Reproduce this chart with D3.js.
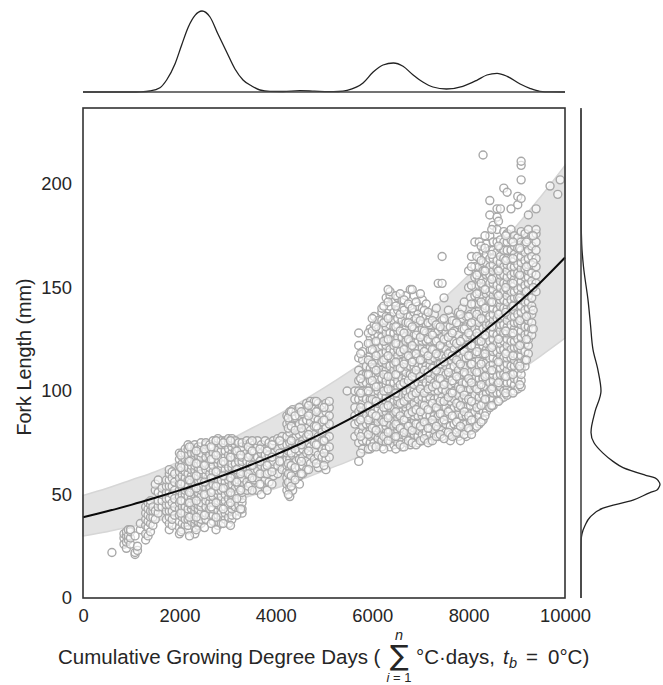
<!DOCTYPE html>
<html>
<head>
<meta charset="utf-8">
<script src="https://cdnjs.cloudflare.com/ajax/libs/d3/7.8.5/d3.min.js"></script>
<style>
body { margin: 0; background: #fff; }
svg { display: block; }
text { font-family: "Liberation Sans", Arial, sans-serif; fill: #262626; }
</style>
</head>
<body>
<script>
// values
var xTicks = [0, 2000, 4000, 6000, 8000, 10000];
var yTicks = [0, 50, 100, 150, 200];

var fitX = [0, 500, 1000, 1500, 2000, 2500, 3000, 3500, 4000, 4500, 5000, 5500, 6000, 6500, 7000, 7500, 8000, 8500, 9000, 9500, 10000];
var fitMean = [39, 41.9, 45, 48.4, 52, 55.8, 60, 64.5, 69.3, 74.4, 80, 86, 92.4, 99.2, 106.6, 114.6, 123, 132.2, 142, 152.7, 164.5];
var fitUpper = [49.5, 53, 57, 61, 66, 71, 76, 82, 88, 94.5, 101.5, 109, 117, 126, 135, 145, 156, 168, 180, 194, 209];
var fitLower = [30, 32, 34.5, 37, 40, 43, 46, 49.5, 53, 57, 61.5, 66, 71, 76, 82, 88, 94.5, 101.5, 109, 117, 125.5];

var topKdeX = [0, 1000, 1200, 1390, 1597, 1735, 1908, 2047, 2185, 2324, 2469, 2635, 2800, 2980, 3153, 3320, 3500, 3670, 3880, 4150, 4500, 4800, 5100, 5300, 5480, 5810, 6020, 6225, 6440, 6640, 6850, 7050, 7260, 7540, 7880, 8170, 8380, 8590, 8800, 9070, 9270, 9480, 9700, 10000];
var topKdeY = [0, 0, 0.2, 1, 4.3, 12, 28, 47, 65, 76.6, 81, 75, 58, 40, 23, 12, 6, 2, 0.6, 0.5, 1.3, 0.8, 0.3, 0.5, 1.7, 9, 20, 27, 29, 25.7, 17, 10, 5, 3, 5.7, 11.7, 17, 18.7, 15.7, 8, 3.7, 0.7, 0.1, 0];

var rightKdeY = [0, 20, 28, 31, 35, 39, 43.4, 47.3, 50.9, 52.2, 53.5, 55, 56.5, 58, 59.4, 63, 66, 70, 75, 80, 90, 100, 110, 120, 132, 144, 160, 171, 185, 236];
var rightKdeX = [0, 0, 0.2, 1, 4, 9, 22, 52, 69, 76, 78, 79, 77.5, 74, 64, 42, 32, 22, 13, 10, 14, 20, 17, 12, 9.5, 7, 2.5, 0.7, 0.1, 0];

var scatterX = [600, 850, 900, 940, 985, 1080, 1130, 1190, 1300, 1350, 1400, 1450, 1500, 1560, 1640, 1730, 1790, 1850, 1900, 2000, 2060, 2120, 2180, 2250, 2320, 2390, 2450, 2550, 2630, 2700, 2800, 2870, 2950, 3020, 3090, 3160, 3230, 3300,
  3400, 3470, 3550, 3620, 3700, 3780, 3860, 3950, 4040, 4130, 4230, 4290, 4350, 4420, 4490, 4560, 4640, 4720, 4800, 4880, 4960, 5040, 5110,
  5480, 5640, 5720, 5800, 5880, 5960, 6040, 6120, 6200, 6290, 6370, 6450, 6530, 6620, 6700, 6790, 6870, 6950, 7040, 7120, 7200, 7290, 7370, 7450, 7530, 7620, 7700, 7790, 7870, 7950, 8040,
  8130, 8220, 8300, 8370, 8440, 8510, 8590, 8660, 8730, 8800, 8880, 8950, 9020, 9090, 9170, 9240, 9310, 9400, 9690, 9850, 9900];
var scatterY = [
  [22],
  [26, 29, 31],
  [24, 27, 30, 32],
  [28, 30, 33],
  [26, 29, 32, 33],
  [21, 22, 30],
  [23, 25],
  [33, 36],
  [28, 31, 35, 38, 41, 44],
  [30, 34, 37, 40, 43, 46],
  [32, 36, 39, 42, 45, 47],
  [35, 39, 42, 44],
  [38, 42, 52, 55],
  [41, 44, 47, 51, 57],
  [44, 47, 50, 53],
  [38, 42, 45, 48, 51, 54, 57],
  [33, 36, 39, 42, 45, 48, 51, 54, 57, 60, 62],
  [35, 38, 42, 46, 50, 54, 58, 61],
  [40, 44, 48, 52, 56, 60],
  [31, 34, 37, 40, 43, 46, 49, 52, 55, 58, 61, 64, 67, 70],
  [33, 36, 39, 42, 44, 47, 50, 53, 56, 59, 62, 65, 68, 70],
  [35, 38, 41, 44, 47, 50, 52, 55, 58, 61, 64, 67, 70, 72],
  [33, 35, 38, 41, 43, 46, 49, 52, 54, 57, 60, 63, 66, 69, 72, 74],
  [37, 40, 43, 45, 48, 51, 53, 56, 59, 62, 64, 67, 70, 73],
  [31, 34, 36, 38, 40, 42, 44, 46, 48, 50, 52, 54, 56, 58, 60, 62, 64, 66, 68, 70, 72, 74],
  [35, 37, 39, 41, 43, 45, 47, 49, 51, 53, 55, 57, 59, 61, 63, 65, 67, 69, 71, 73],
  [36, 38, 41, 44, 46, 49, 52, 54, 57, 60, 62, 65, 68, 70, 73, 75],
  [38, 41, 44, 47, 50, 53, 56, 59, 62, 65, 68, 71, 74, 75],
  [40, 43, 46, 49, 52, 54, 57, 60, 63, 66, 69, 72, 74],
  [37, 40, 43, 46, 49, 52, 55, 58, 61, 64, 67, 70, 73, 76],
  [35, 37, 40, 42, 45, 47, 50, 52, 55, 57, 60, 62, 65, 67, 70, 72, 75, 77],
  [36, 39, 41, 44, 47, 49, 52, 55, 57, 60, 63, 65, 68, 71, 74, 76],
  [38, 41, 44, 47, 50, 53, 56, 59, 62, 65, 68, 71, 74, 76],
  [36, 39, 42, 45, 48, 51, 54, 57, 60, 63, 66, 69, 72, 75, 77],
  [38, 40, 43, 45, 48, 50, 53, 55, 58, 60, 63, 65, 68, 70, 73, 75, 77],
  [44, 47, 50, 53, 56, 59, 62, 65, 68, 71, 74, 76],
  [42, 45, 48, 51, 54, 57, 60, 63, 66, 69, 72, 75],
  [41, 43, 46, 48, 51, 53, 56, 58, 61, 63, 66, 68, 71, 73, 75],
  [52, 56, 60, 63, 66, 70, 74, 76],
  [55, 59, 62, 65, 69, 72, 75],
  [57, 61, 64, 68, 71, 74],
  [52, 58, 62, 65, 68, 73, 76],
  [50, 55, 60, 64, 67, 70, 74],
  [57, 60, 63, 66, 69, 72, 76],
  [56, 61, 65, 69, 73, 75],
  [59, 63, 66, 70, 74, 76],
  [60, 64, 68, 72, 77],
  [62, 66, 70, 74, 78],
  [52, 55, 58, 61, 64, 67, 70, 74, 78, 84, 88],
  [49, 53, 56, 60, 63, 67, 71, 75, 80, 85, 89, 90],
  [52, 57, 61, 65, 69, 73, 77, 82, 87, 91],
  [58, 62, 66, 70, 74, 78, 83, 87, 90],
  [55, 59, 63, 67, 71, 75, 79, 84, 88, 92],
  [60, 64, 68, 72, 76, 80, 85, 89],
  [62, 66, 70, 74, 78, 82, 86, 90, 94],
  [65, 69, 73, 77, 81, 85, 89, 95],
  [67, 71, 75, 79, 83, 87, 92, 95],
  [63, 69, 74, 78, 82, 86, 91, 94],
  [68, 72, 76, 80, 85, 89, 93],
  [62, 67, 72, 77, 82, 86, 90, 94],
  [68, 73, 78, 84, 88, 92, 95],
  [100],
  [78, 84, 88, 92, 96, 100],
  [66, 75, 80, 85, 90, 96, 100, 105, 110, 116, 122, 128],
  [72, 76, 80, 83, 87, 90, 94, 97, 100, 104, 108, 115, 119],
  [76, 80, 84, 88, 92, 96, 100, 104, 108, 112],
  [72, 75, 78, 81, 84, 87, 90, 93, 96, 99, 102, 105, 108, 111, 114, 117, 120, 123, 126, 130],
  [75, 79, 83, 87, 91, 95, 99, 103, 107, 111, 115, 119, 123, 127, 132, 136],
  [74, 77, 80, 82, 85, 88, 91, 94, 97, 100, 103, 106, 109, 112, 115, 118, 121, 124, 127, 130, 134],
  [73, 76, 79, 82, 86, 90, 94, 98, 102, 106, 110, 114, 118, 122, 126, 130, 134, 138, 140],
  [75, 78, 80, 83, 85, 87, 90, 92, 95, 97, 100, 103, 105, 108, 110, 113, 116, 119, 122, 125, 128, 131, 134, 136, 145],
  [73, 76, 78, 81, 84, 88, 92, 96, 100, 104, 108, 112, 116, 120, 124, 128, 132, 136, 141, 146, 148],
  [74, 77, 80, 83, 86, 89, 92, 95, 98, 101, 104, 107, 110, 113, 116, 119, 122, 125, 128, 131, 134, 138, 143],
  [75, 78, 81, 83, 85, 87, 89, 91, 93, 95, 97, 99, 102, 105, 108, 111, 114, 117, 120, 123, 126, 129, 132, 135, 139, 145],
  [73, 76, 79, 82, 86, 90, 94, 98, 102, 106, 110, 114, 118, 122, 126, 130, 134, 140, 144],
  [75, 78, 81, 84, 87, 90, 92, 94, 96, 98, 100, 103, 106, 109, 112, 115, 118, 121, 124, 127, 130, 133, 137, 146],
  [74, 77, 80, 84, 88, 92, 96, 100, 104, 108, 112, 116, 120, 124, 128, 132, 136, 141, 149],
  [76, 79, 82, 84, 86, 88, 91, 94, 97, 100, 103, 106, 109, 112, 115, 118, 121, 124, 127, 130, 134, 138, 146],
  [75, 78, 81, 84, 88, 92, 96, 100, 104, 108, 112, 116, 120, 124, 129, 133, 137, 141],
  [76, 79, 82, 85, 88, 91, 94, 97, 100, 103, 106, 109, 112, 115, 118, 121, 124, 127, 130, 133, 136, 140, 144],
  [77, 80, 84, 88, 92, 96, 100, 104, 108, 112, 116, 120, 124, 128, 132, 136, 142],
  [76, 79, 82, 85, 88, 91, 94, 97, 100, 103, 106, 109, 112, 115, 118, 121, 124, 128, 132, 135],
  [78, 81, 84, 88, 92, 96, 100, 104, 108, 112, 116, 120, 124, 128, 133, 137],
  [78, 82, 85, 88, 91, 94, 97, 100, 103, 106, 109, 113, 117, 121, 125, 129, 132, 152],
  [78, 81, 85, 89, 93, 97, 101, 105, 109, 113, 117, 121, 126, 130, 134, 165, 152],
  [80, 84, 88, 92, 96, 100, 104, 108, 112, 116, 120, 124, 128, 131],
  [76, 79, 83, 87, 91, 95, 99, 103, 107, 111, 115, 119, 123, 127, 131, 136],
  [80, 84, 88, 92, 96, 100, 104, 108, 112, 116, 120, 124, 129, 134],
  [78, 82, 86, 89, 92, 95, 98, 102, 106, 110, 114, 118, 122, 127, 132, 138],
  [80, 84, 88, 92, 96, 100, 104, 108, 112, 116, 120, 125, 130, 135, 140],
  [78, 81, 84, 88, 92, 96, 100, 104, 108, 112, 116, 121, 126, 131, 136],
  [81, 85, 89, 93, 97, 101, 105, 109, 113, 117, 122, 127, 132, 137, 145],
  [82, 86, 90, 94, 98, 102, 106, 110, 114, 118, 122, 126, 130, 134, 138, 142, 146, 150, 155, 160, 172],
  [84, 88, 91, 94, 97, 100, 103, 106, 109, 112, 115, 118, 121, 124, 127, 130, 133, 136, 139, 142, 145, 148, 151, 154, 157, 160, 164, 172],
  [86, 90, 94, 98, 102, 106, 110, 114, 118, 122, 126, 130, 134, 138, 142, 146, 150, 154, 158, 162, 168, 214],
  [90, 93, 96, 99, 102, 105, 108, 111, 114, 117, 120, 123, 126, 129, 132, 135, 138, 141, 144, 147, 150, 153, 156, 159, 162, 166, 171],
  [92, 96, 100, 104, 108, 112, 116, 120, 124, 128, 132, 136, 140, 144, 148, 152, 156, 160, 164, 168, 175, 192, 185],
  [93, 96, 99, 102, 105, 108, 110, 113, 116, 119, 122, 125, 128, 131, 134, 137, 140, 143, 146, 149, 152, 155, 158, 161, 164, 168, 172, 180],
  [95, 99, 103, 107, 111, 115, 119, 123, 127, 131, 135, 139, 143, 147, 151, 155, 159, 163, 167, 172, 178, 184, 188],
  [96, 99, 102, 105, 108, 111, 114, 117, 120, 123, 126, 129, 132, 135, 138, 141, 144, 147, 150, 153, 156, 159, 162, 165, 169, 173, 188],
  [97, 100, 104, 108, 112, 116, 120, 124, 128, 132, 136, 140, 144, 148, 152, 156, 160, 164, 168, 172, 177, 198],
  [98, 101, 104, 107, 110, 113, 116, 119, 122, 125, 128, 131, 134, 137, 140, 143, 146, 149, 152, 155, 158, 161, 164, 168, 172, 176, 196],
  [100, 104, 108, 112, 116, 120, 124, 128, 132, 136, 140, 144, 148, 152, 156, 160, 164, 168, 173, 178, 188],
  [100, 103, 106, 109, 112, 115, 118, 121, 124, 127, 130, 133, 136, 139, 142, 145, 148, 151, 154, 157, 160, 163, 166, 170, 175],
  [101, 105, 109, 113, 117, 121, 125, 129, 133, 137, 141, 145, 149, 153, 157, 161, 165, 169, 174, 190, 194],
  [102, 105, 108, 111, 114, 117, 120, 123, 126, 129, 132, 135, 138, 141, 144, 147, 150, 153, 156, 159, 162, 165, 168, 172, 177, 202, 209, 211, 193],
  [112, 115, 119, 123, 127, 131, 135, 139, 143, 147, 151, 155, 159, 163, 167, 171, 176],
  [118, 122, 125, 128, 131, 134, 137, 140, 143, 146, 149, 152, 155, 158, 161, 164, 168, 173, 178, 185],
  [127, 130, 133, 137, 141, 145, 149, 153, 157, 161, 165, 170, 175],
  [148, 152, 156, 160, 164, 168, 172, 176, 178, 188],
  [199],
  [195],
  [202]
];

// second pass over the dense columns, x then its y values
var scatterFill = [
  [2030, [32, 41, 47, 55, 63, 69]],
  [2210, [30, 39, 46, 51, 57, 66, 73]],
  [2350, [33, 39, 47, 53, 59, 65, 71]],
  [2520, [34, 40, 50, 56, 64, 72]],
  [2660, [36, 44, 51, 58, 67, 73]],
  [2760, [33, 39, 46, 54, 61, 69, 76]],
  [2910, [36, 43, 53, 59, 66, 75]],
  [3060, [35, 46, 51, 58, 68, 76]],
  [3190, [40, 48, 56, 62, 71]],
  [3270, [43, 52, 60, 69]],
  [3430, [54, 60, 68, 73]],
  [3510, [52, 58, 64, 71, 76]],
  [3670, [55, 60, 66, 72]],
  [3820, [52, 60, 64, 71]],
  [3920, [55, 61, 68, 74]],
  [4080, [66, 70, 76]],
  [4260, [50, 56, 60, 65, 71, 82, 87]],
  [4320, [54, 59, 64, 70, 76, 83, 90]],
  [4400, [57, 63, 72, 81, 88]],
  [4530, [60, 66, 74, 82, 90]],
  [4680, [62, 71, 79, 88, 93]],
  [4840, [65, 74, 83, 90, 95]],
  [5000, [64, 70, 76, 86, 92]],
  [5760, [70, 78, 86, 92, 99, 106, 118]],
  [5920, [72, 79, 86, 93, 100, 108, 115, 123, 128]],
  [6000, [73, 82, 89, 96, 105, 113, 120, 129, 135]],
  [6080, [73, 81, 88, 95, 102, 110, 117, 124, 131]],
  [6240, [72, 78, 85, 92, 100, 108, 115, 124, 133, 141]],
  [6330, [76, 80, 87, 93, 101, 107, 117, 125, 135, 143, 149]],
  [6490, [72, 78, 84, 90, 99, 108, 114, 123, 131, 141, 146]],
  [6580, [74, 82, 88, 94, 103, 111, 119, 129, 137, 147]],
  [6660, [73, 80, 86, 95, 104, 113, 120, 128, 139, 144]],
  [6750, [76, 83, 89, 97, 105, 117, 125, 133, 142]],
  [6830, [75, 81, 90, 98, 107, 114, 122, 131, 140, 149]],
  [6910, [74, 84, 91, 99, 110, 118, 127, 135, 143]],
  [7000, [76, 83, 90, 101, 107, 115, 126, 134, 147]],
  [7080, [77, 85, 93, 99, 110, 119, 129, 139]],
  [7160, [75, 82, 91, 101, 109, 117, 125, 133, 138]],
  [7250, [76, 86, 94, 102, 111, 120, 127, 134]],
  [7330, [78, 83, 92, 103, 110, 118, 124, 132, 140]],
  [7410, [79, 89, 95, 106, 113, 122, 131]],
  [7490, [77, 86, 95, 103, 114, 125, 135, 145]],
  [7580, [80, 90, 97, 109, 118, 126, 139]],
  [7660, [78, 88, 99, 105, 117, 128, 134]],
  [7750, [80, 85, 94, 107, 115, 123, 133]],
  [7830, [76, 83, 93, 101, 113, 124, 137]],
  [7910, [79, 90, 98, 109, 119, 130, 143]],
  [8000, [82, 88, 96, 106, 117, 128, 136, 150, 158]],
  [8060, [79, 86, 95, 104, 113, 122, 133, 142, 151, 160, 165]],
  [8170, [83, 92, 101, 109, 119, 128, 137, 147, 156, 165]],
  [8260, [85, 93, 103, 113, 124, 135, 143, 152, 163, 170]],
  [8340, [88, 96, 107, 118, 127, 140, 149, 158, 169, 175]],
  [8480, [93, 101, 110, 121, 131, 143, 154, 166, 178]],
  [8620, [95, 104, 114, 125, 137, 146, 158, 170, 182]],
  [8770, [99, 107, 118, 129, 138, 150, 163, 175]],
  [8920, [99, 108, 117, 128, 141, 152, 164, 172]],
  [9060, [103, 112, 122, 134, 145, 156, 169]],
  [9200, [115, 125, 136, 148, 160, 172]],
  [9340, [130, 139, 150, 162, 175]]
];

var margin = { top: 108, right: 98, bottom: 87, left: 83 },
    width = 663 - margin.left - margin.right,
    height = 685 - margin.top - margin.bottom;

var svg = d3.select("body").append("svg")
    .attr("width", 663)
    .attr("height", 685);

var g = svg.append("g")
    .attr("transform", "translate(" + margin.left + "," + margin.top + ")");

var xscale = d3.scaleLinear().domain([0, 10000]).range([0, width]);
var yscale = d3.scaleLinear().domain([0, height / 2.07]).range([height, 0]);

// confidence band
var band = d3.area()
    .x(function(d) { return xscale(d.x); })
    .y0(function(d) { return yscale(d.lo); })
    .y1(function(d) { return yscale(d.hi); })
    .curve(d3.curveCatmullRom);
var fit = fitX.map(function(x, i) {
    return { x: x, mean: fitMean[i], hi: fitUpper[i], lo: fitLower[i] };
});
g.append("path")
    .datum(fit)
    .attr("fill", "#e3e3e3")
    .attr("stroke", "#d6d6d6")
    .attr("stroke-width", 1.5)
    .attr("d", band);

// scatter
var points = [];
scatterX.forEach(function(x, i) {
    scatterY[i].forEach(function(y) { points.push({ x: x, y: y }); });
});
scatterFill.forEach(function(c) {
    c[1].forEach(function(y) { points.push({ x: c[0], y: y }); });
});
g.append("g").selectAll("circle")
    .data(points)
    .enter().append("circle")
    .attr("cx", function(d) { return xscale(d.x); })
    .attr("cy", function(d) { return yscale(d.y); })
    .attr("r", 4)
    .attr("fill", "#fff")
    .attr("fill-opacity", 0.6)
    .attr("stroke", "#a8a8a8")
    .attr("stroke-width", 1.4);

// mean curve
var meanLine = d3.line()
    .x(function(d) { return xscale(d.x); })
    .y(function(d) { return yscale(d.mean); })
    .curve(d3.curveCatmullRom);
g.append("path")
    .datum(fit)
    .attr("fill", "none")
    .attr("stroke", "#0a0a0a")
    .attr("stroke-width", 2)
    .attr("d", meanLine);

// axes
var xAxis = d3.axisBottom(xscale).tickValues(xTicks).tickSize(0).tickPadding(11).tickFormat(d3.format("d"));
var yAxis = d3.axisLeft(yscale).tickValues(yTicks).tickSize(0).tickPadding(11);
var gx = g.append("g").attr("transform", "translate(0," + height + ")").call(xAxis);
var gy = g.append("g").call(yAxis);
[gx, gy].forEach(function(a) {
    a.select(".domain").remove();
    a.selectAll("text").style("font-size", "18.4px").style("font-family", '"Liberation Sans", Arial, sans-serif').attr("fill", "#262626");
});

g.append("rect")
    .attr("width", width)
    .attr("height", height)
    .attr("fill", "none")
    .attr("stroke", "#333")
    .attr("stroke-width", 1.6);

// top marginal
var topY = d3.scaleLinear().domain([0, 81]).range([92, 11]);
var topLine = d3.line()
    .x(function(d, i) { return margin.left + xscale(d); })
    .y(function(d, i) { return topY(topKdeY[i]); })
    .curve(d3.curveMonotoneX);
svg.append("path").datum(topKdeX)
    .attr("fill", "none").attr("stroke", "#222").attr("stroke-width", 1.3)
    .attr("d", topLine);
svg.append("line")
    .attr("x1", margin.left).attr("x2", margin.left + width)
    .attr("y1", topY(0)).attr("y2", topY(0))
    .attr("stroke", "#444").attr("stroke-width", 1.6);

// right marginal
var rightX = d3.scaleLinear().domain([0, 79]).range([581, 660]);
var rightLine = d3.line()
    .x(function(d, i) { return rightX(rightKdeX[i]); })
    .y(function(d) { return margin.top + yscale(d); })
    .curve(d3.curveMonotoneY);
svg.append("path").datum(rightKdeY)
    .attr("fill", "none").attr("stroke", "#222").attr("stroke-width", 1.3)
    .attr("d", rightLine);
svg.append("line")
    .attr("x1", rightX(0)).attr("x2", rightX(0))
    .attr("y1", margin.top).attr("y2", margin.top + height)
    .attr("stroke", "#444").attr("stroke-width", 1.6);

// axis labels
svg.append("text")
    .attr("transform", "translate(31,357) rotate(-90)")
    .attr("text-anchor", "middle")
    .style("font-size", "19.8px")
    .text("Fork Length (mm)");

function label(x, y, size, str, italic, anchor, family) {
    var t = svg.append("text")
        .attr("x", x).attr("y", y)
        .attr("text-anchor", anchor || "start")
        .style("font-size", size + "px")
        .text(str);
    if (italic) t.style("font-style", "italic");
    if (family) t.style("font-family", family);
    return t;
}
label(58, 664, 20.5, "Cumulative Growing Degree Days (");
label(399.5, 664.5, 28, "\u2211", false, "middle", '"DejaVu Sans"');
label(399, 640, 14.5, "n", true, "middle");
var sumFrom = label(399, 681.5, 13, "", false, "middle");
sumFrom.append("tspan").style("font-style", "italic").text("i");
sumFrom.append("tspan").text(" = 1");
label(416, 664, 20.5, "\u00b0C\u00b7days,");
label(503, 664, 20.5, "t", true);
label(509, 668, 14.5, "b", true);
label(526, 664, 20.5, "=");
label(548, 664, 20.5, "0\u00b0C)");
</script>
</body>
</html>
